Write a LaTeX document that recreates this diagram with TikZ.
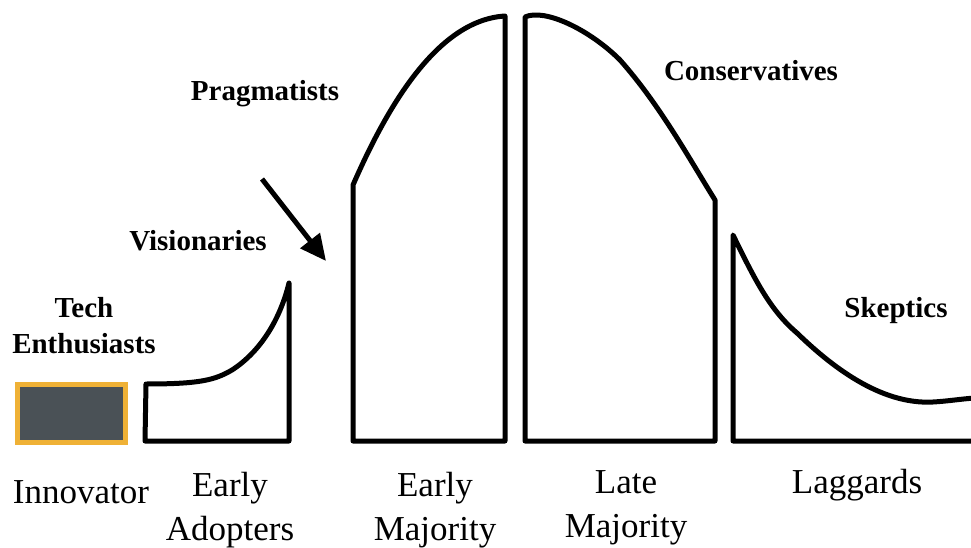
\documentclass[tikz,border=0pt]{standalone}
\usepackage{fontspec}
\setmainfont{Liberation Serif}
\usepackage{tikz}
\usetikzlibrary{arrows.meta}
\definecolor{innoorange}{RGB}{239,177,54}
\definecolor{innogray}{RGB}{74,81,86}

\begin{document}
\begin{tikzpicture}[
      x=1pt, y=-1pt,
      curve/.style={line width=5pt, line join=round, draw=black},
      grouplabel/.style={font=\fontsize{29}{36}\selectfont\bfseries, align=center,
                         inner sep=0pt, anchor=base},
      phaselabel/.style={font=\fontsize{35}{43.5}\selectfont, align=center,
                         inner sep=0pt, anchor=base},
      innobox/.style={draw=innoorange, fill=innogray, line width=5pt,
                      minimum width=108pt, minimum height=58pt, inner sep=0pt},
      arrow/.style={-{Triangle[length=26pt, width=24pt]}, line width=5pt},
    ]
    \useasboundingbox (0,0) rectangle (971,548);

    % adoption segments
    \node[innobox] (innov) at (71.5,413.5) {};
    \draw[curve] (145,441) -- (146,384)
      .. controls (200,384) and (215,380) .. (232,370)
      .. controls (260,352) and (280,320) .. (289,283) -- (289,441) -- cycle;
    \draw[curve] (353,441) -- (353,185)
      .. controls (390,100) and (440,20) .. (505,16) -- (505,441) -- cycle;
    \draw[curve] (525,441) -- (525,17)
      .. controls (545,8) and (590,30) .. (620,60)
      .. controls (660,105) and (690,160) .. (715,200) -- (715,441) -- cycle;
    \draw[curve] (975,441) -- (733,441) -- (733,235)
      .. controls (755,280) and (770,310) .. (797,333)
      .. controls (830,365) and (880,405) .. (933,402)
      .. controls (950,401) and (960,399) .. (975,398);

    % group names (base = last line)
    \node[grouplabel] (tech) at (84,353) {Tech\\Enthusiasts};
    \node[grouplabel] (vis)  at (198,250) {Visionaries};
    \node[grouplabel] (prag) at (265,101) {Pragmatists};
    \node[grouplabel] (cons) at (751,81) {Conservatives};
    \node[grouplabel] (skep) at (896,317) {Skeptics};

    % phase names
    \node[phaselabel] (innovlab) at (81,503) {Innovator};
    \node[phaselabel] (eadopt)   at (230,540) {Early\\Adopters};
    \node[phaselabel] (emaj)     at (435,540) {Early\\Majority};
    \node[phaselabel] (lmaj)     at (626,537) {Late\\Majority};
    \node[phaselabel] (lagg)     at (857,493) {Laggards};

    % the chasm
    \coordinate (chasmS) at (262,179);
    \coordinate (chasmE) at (326,261);
    \draw[arrow] (chasmS) -- (chasmE);
  \end{tikzpicture}
\end{document}
